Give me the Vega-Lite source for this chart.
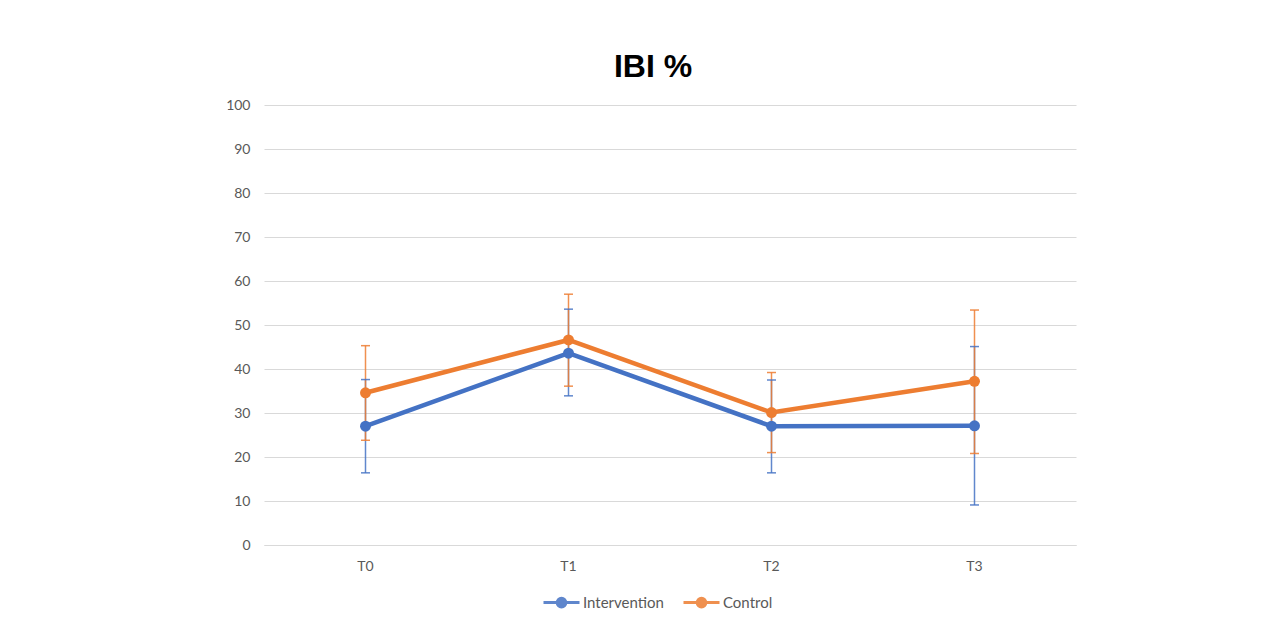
{
  "$schema": "https://vega.github.io/schema/vega-lite/v6.json",
  "autosize": {"type": "none"},
  "width": 812,
  "height": 440,
  "padding": {"left": 264, "top": 105, "right": 209, "bottom": 83},
  "background": "white",
  "title": {"text": "IBI %", "font": "Liberation Sans", "fontSize": 32, "fontWeight": "bold", "color": "#000000", "anchor": "middle", "offset": 14, "dx": -17},
  "data": {"values": [
    {"t": "T0", "group": "Intervention", "mean": 27.0, "lo": 16.4, "hi": 37.6},
    {"t": "T1", "group": "Intervention", "mean": 43.6, "lo": 33.9, "hi": 53.6},
    {"t": "T2", "group": "Intervention", "mean": 27.0, "lo": 16.4, "hi": 37.5},
    {"t": "T3", "group": "Intervention", "mean": 27.1, "lo": 9.1, "hi": 45.1},
    {"t": "T0", "group": "Control", "mean": 34.6, "lo": 23.8, "hi": 45.3},
    {"t": "T1", "group": "Control", "mean": 46.6, "lo": 36.1, "hi": 57.0},
    {"t": "T2", "group": "Control", "mean": 30.1, "lo": 21.0, "hi": 39.2},
    {"t": "T3", "group": "Control", "mean": 37.2, "lo": 20.8, "hi": 53.4}
  ]},
  "encoding": {
    "x": {"field": "t", "type": "nominal", "sort": ["T0", "T1", "T2", "T3"],
      "scale": {"paddingInner": 0, "paddingOuter": 0},
      "axis": {"title": null, "labelAngle": 0, "ticks": false, "domainColor": "#d9d9d9", "labelColor": "#595959", "labelFont": "Lato", "labelFontSize": 14, "labelPadding": 14, "grid": false}
    },
    "color": {"field": "group", "type": "nominal",
      "scale": {"domain": ["Intervention", "Control"], "range": ["#4472C4", "#ED7D31"]},
      "legend": {"title": null, "orient": "none", "legendX": 278, "legendY": 478, "direction": "horizontal",
        "symbolType": "M-1,0H1M-0.24,0a0.24,0.24 0 1,0 0.48,0a0.24,0.24 0 1,0 -0.48,0",
        "symbolSize": 1296, "symbolStrokeWidth": 3, "labelFont": "Lato", "labelFontSize": 15, "labelColor": "#595959", "labelOffset": 2, "columnPadding": 13}}
  },
  "layer": [
    {
      "mark": {"type": "rule", "strokeWidth": 1.5, "opacity": 0.85},
      "encoding": {
        "y": {"field": "lo", "type": "quantitative", "scale": {"domain": [0, 100]},
          "axis": {"title": null, "values": [0,10,20,30,40,50,60,70,80,90,100], "domain": false, "ticks": false, "gridColor": "#d9d9d9", "gridWidth": 1, "labelColor": "#595959", "labelFont": "Lato", "labelFontSize": 14, "labelPadding": 14}},
        "y2": {"field": "hi"}
      }
    },
    {
      "mark": {"type": "tick", "thickness": 1.5, "size": 9, "opacity": 0.85, "orient": "horizontal"},
      "encoding": {
        "y": {"field": "lo", "type": "quantitative"}
      }
    },
    {
      "mark": {"type": "tick", "thickness": 1.5, "size": 9, "opacity": 0.85, "orient": "horizontal"},
      "encoding": {
        "y": {"field": "hi", "type": "quantitative"}
      }
    },
    {
      "mark": {"type": "line", "strokeWidth": 4.5},
      "encoding": {
        "y": {"field": "mean", "type": "quantitative"}
      }
    },
    {
      "mark": {"type": "point", "filled": true, "size": 120, "opacity": 1},
      "encoding": {
        "y": {"field": "mean", "type": "quantitative"}
      }
    }
  ],
  "config": {"view": {"stroke": null}}
}
